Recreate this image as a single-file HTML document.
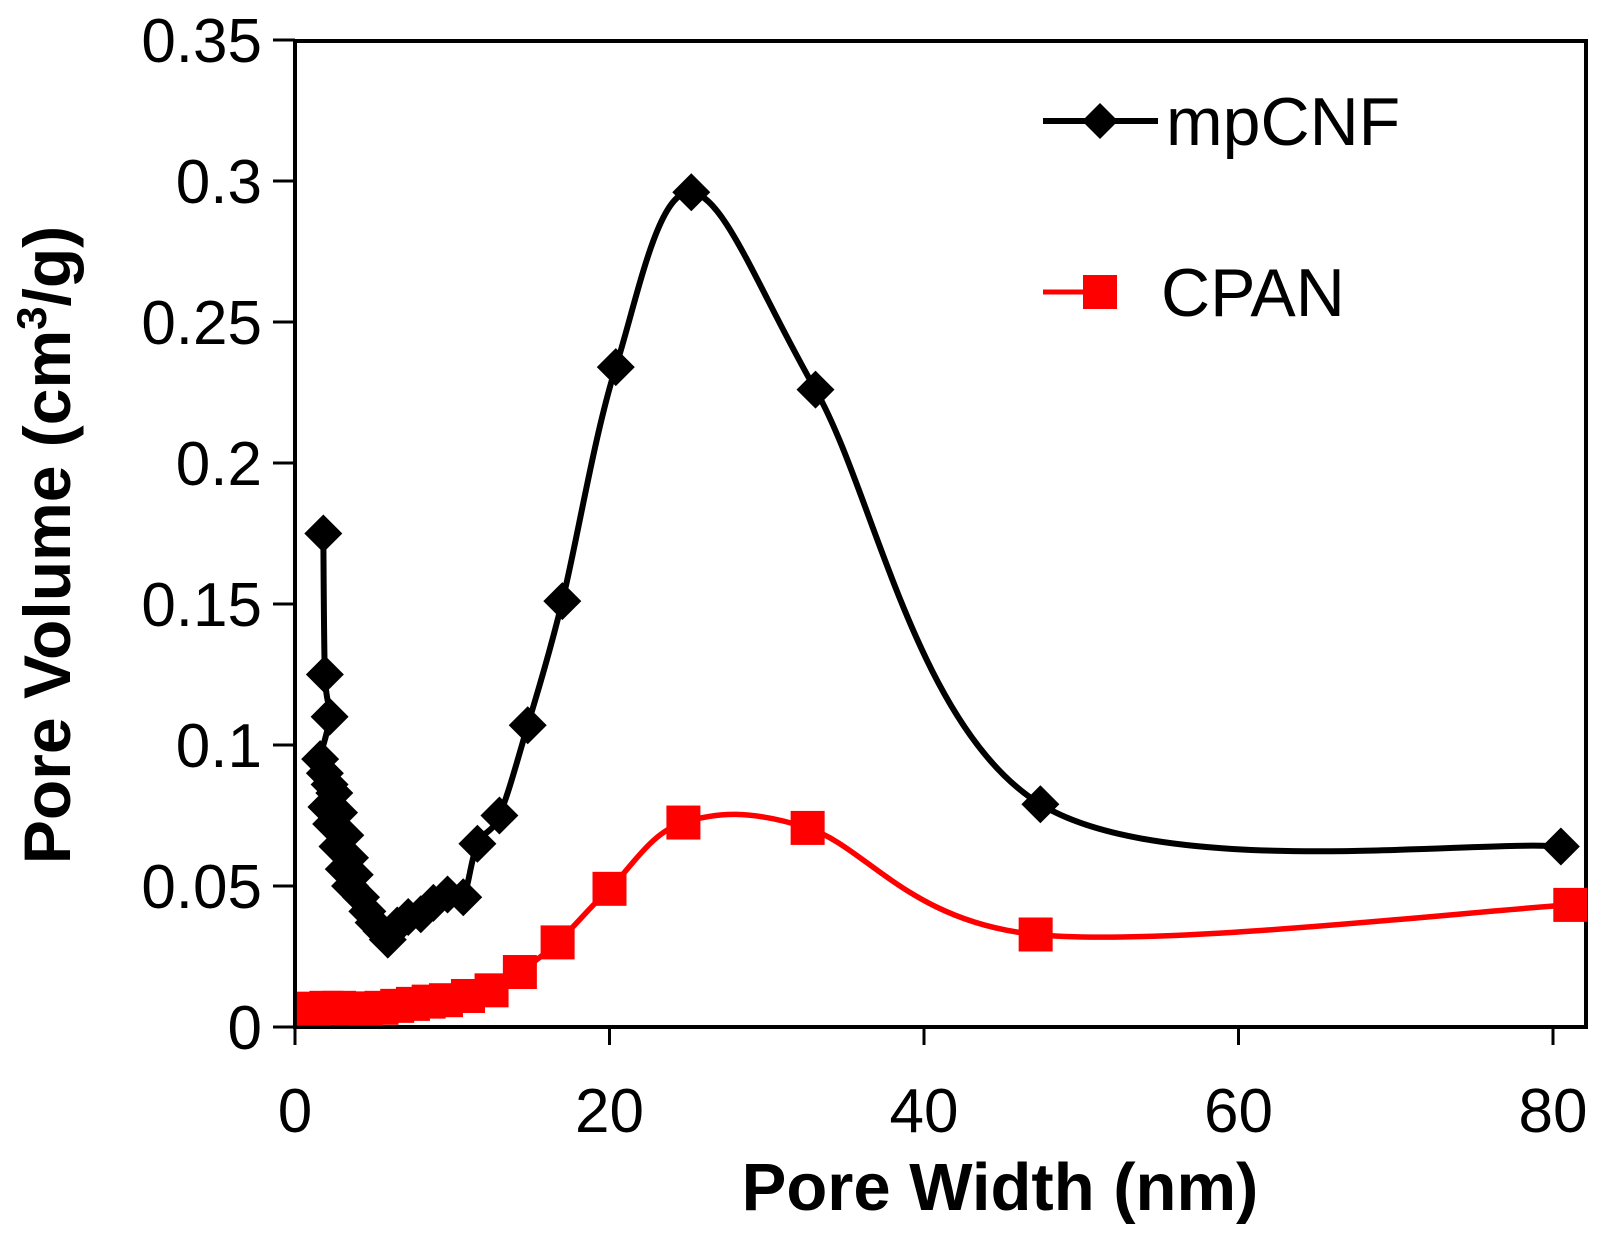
<!DOCTYPE html>
<html><head><meta charset="utf-8"><style>
body{margin:0;background:#fff;}
svg{display:block;font-family:"Liberation Sans",Arial,sans-serif;}
</style></head><body>
<svg id="chart" width="1607" height="1234" viewBox="0 0 1607 1234"></svg>
<script>
const xTicks=[0,20,40,60,80];
const yTicks=[0,0.05,0.1,0.15,0.2,0.25,0.3,0.35];
const yTickLabels=["0","0.05","0.1","0.15","0.2","0.25","0.3","0.35"];
const mpcnfX=[1.8,1.9,2.2,1.6,1.9,2.2,2.5,2.0,2.8,2.3,3.2,2.7,3.5,3.1,3.8,3.5,4.2,4.6,5.0,5.5,5.9,6.5,7.2,8.0,8.8,9.7,10.7,11.6,13.0,14.8,17.0,20.4,25.2,33.1,47.4,80.5];
const mpcnfY=[0.175,0.125,0.110,0.095,0.090,0.086,0.083,0.078,0.076,0.072,0.068,0.064,0.060,0.056,0.054,0.050,0.046,0.041,0.037,0.034,0.031,0.036,0.039,0.040,0.044,0.047,0.046,0.065,0.075,0.107,0.151,0.234,0.296,0.226,0.079,0.064];
const cpanX=[1.2,2.0,2.8,3.6,4.5,5.5,6.5,7.5,8.5,9.6,11.0,12.5,14.3,16.7,20.0,24.7,32.6,47.1,81.1];
const cpanY=[0.0065,0.0068,0.0068,0.0066,0.0065,0.0068,0.0075,0.0082,0.009,0.0095,0.011,0.013,0.0195,0.030,0.049,0.0725,0.0706,0.0328,0.0433];

const L=295,R=1586,T=41,B=1027;
const sx=v=>L+v*15.725;
const sy=v=>B-v*2820;
const NS="http://www.w3.org/2000/svg";
const svg=document.getElementById('chart');
function mk(tag,attrs,parent){const e=document.createElementNS(NS,tag);for(const k in attrs)e.setAttribute(k,attrs[k]);(parent||svg).appendChild(e);return e;}

const frame=mk('rect',{x:L,y:T,width:R-L,height:B-T,fill:'none',stroke:'#000','stroke-width':4});



yTicks.forEach((v,i)=>{
  const t=mk('line',{x1:273,x2:L,y1:sy(v),y2:sy(v),stroke:'#000','stroke-width':3});
  
  
  const lb=mk('text',{x:262,y:sy(v)+22,'text-anchor':'end','font-size':62});
  lb.textContent=yTickLabels[i];
  
  
});
xTicks.forEach(v=>{
  const t=mk('line',{x1:sx(v),x2:sx(v),y1:B,y2:B+18,stroke:'#000','stroke-width':3});
  
  
  const lb=mk('text',{x:sx(v),y:1132,'text-anchor':'middle','font-size':62});
  lb.textContent=String(v);
  
  
});

function smooth(pts){
  let d=`M${pts[0][0]},${pts[0][1]}`;
  for(let i=0;i<pts.length-1;i++){
    const p0=pts[Math.max(0,i-1)],p1=pts[i],p2=pts[i+1],p3=pts[Math.min(pts.length-1,i+2)];
    const c1=[p1[0]+(p2[0]-p0[0])/6,p1[1]+(p2[1]-p0[1])/6];
    const c2=[p2[0]-(p3[0]-p1[0])/6,p2[1]-(p3[1]-p1[1])/6];
    d+=` C${c1[0]},${c1[1]} ${c2[0]},${c2[1]} ${p2[0]},${p2[1]}`;
  }
  return d;
}

// CPAN
const cp=cpanX.map((x,i)=>[sx(x),sy(cpanY[i])]);
const cl=mk('path',{d:smooth(cp),fill:'none',stroke:'#ff0000','stroke-width':5.5});


cp.forEach(p=>{
  const m=mk('rect',{x:p[0]-17,y:p[1]-17,width:34,height:34,fill:'#ff0000'});
  
  
});

// mpCNF
const mp=mpcnfX.map((x,i)=>[sx(x),sy(mpcnfY[i])]);
const ml=mk('path',{d:smooth(mp),fill:'none',stroke:'#000','stroke-width':6});


mp.forEach(p=>{
  const m=mk('path',{d:`M${p[0]},${p[1]-19} L${p[0]+19},${p[1]} L${p[0]},${p[1]+19} L${p[0]-19},${p[1]} Z`,fill:'#000'});
  
  
});

// legend
const lg=mk('g',{});


const l1=mk('line',{x1:1043,x2:1158,y1:121,y2:121,stroke:'#000','stroke-width':6},lg);


const d1=mk('path',{d:'M1100,103 L1118,121 L1100,139 L1082,121 Z',fill:'#000'},lg);


const t1=mk('text',{x:1166,y:145,'font-size':68},lg);
t1.textContent='mpCNF';


const l2=mk('line',{x1:1043,x2:1117,y1:292,y2:292,stroke:'#ff0000','stroke-width':5},lg);


const s2=mk('rect',{x:1083,y:275,width:34,height:34,fill:'#ff0000'},lg);


const t2=mk('text',{x:1161,y:316,'font-size':68},lg);
t2.textContent='CPAN';



// axis titles
const xt=mk('text',{x:1000,y:1210,'text-anchor':'middle','font-size':67,'font-weight':'bold'});
xt.textContent='Pore Width (nm)';


const yt=mk('text',{x:0,y:0,'text-anchor':'middle','font-size':66,'font-weight':'bold',transform:'translate(70,545) rotate(-90)'});
yt.innerHTML='Pore Volume (cm<tspan font-size="42" dy="-24">3</tspan><tspan dy="24">/g)</tspan>';


</script>
</body></html>
